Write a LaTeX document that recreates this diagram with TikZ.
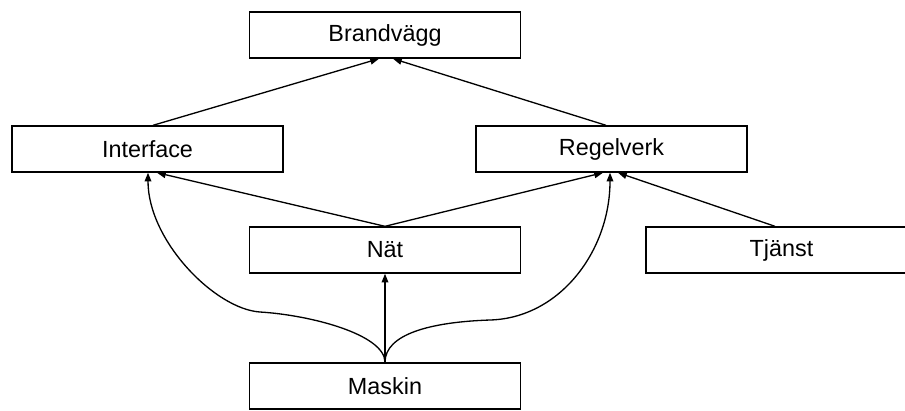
\documentclass[tikz,border=0pt]{standalone}
\usepackage{fontspec}
\setmainfont{Liberation Sans}
\usetikzlibrary{arrows.meta,calc}

\begin{document}
\begin{tikzpicture}[x=0.02cm,y=-0.02cm,
    box/.style={draw,line width=0.8pt,minimum width=5.42cm,minimum height=0.92cm,inner sep=0pt,font=\fontsize{13.3}{15}\selectfont},
    link/.style={line width=0.75pt,-{Triangle[length=5pt,width=3.8pt]}}]
  \useasboundingbox (0,0) rectangle (905,410);
  \clip (0,0) rectangle (905,410);
  \node[box] (brand) at (385,35) {Brandvägg};
  \node[box] (interface) at (147.5,149) {Interface};
  \node[box] (regelverk) at (611.5,149) {Regelverk};
  \node[box] (nat) at (385,250) {Nät};
  \node[box] (tjanst) at (781.5,250) {Tjänst};
  \node[box] (maskin) at (385,386) {Maskin};
  \draw[link] ($(interface.north)+(5.5,0)$) -- ($(brand.south)+(-6,0)$);
  \draw[link] ($(regelverk.north)+(-5.5,0)$) -- ($(brand.south)+(8,0)$);
  \draw[link] (nat.north) -- ($(interface.south)+(9.5,0)$);
  \draw[link] (nat.north) -- ($(regelverk.south)+(-8.5,0)$);
  \draw[link] ($(tjanst.north)+(-6.5,0)$) -- ($(regelverk.south)+(6.5,0)$);
  \draw[link] (maskin.north) -- (nat.south);
  % bends of the two curves
  \coordinate (bendL) at (260,312);
  \coordinate (bendR) at (490,320);
  \draw[link] (maskin.north) .. controls +(0,-28) and +(50,3) .. (bendL)
    .. controls +(-45,-3) and +(0,68) .. ($(interface.south)+(0.5,0)$);
  \draw[link] (maskin.north) .. controls +(0,-28) and +(-60,2) .. (bendR)
    .. controls +(70,-2) and +(0,78) .. ($(regelverk.south)+(-1.5,0)$);
\end{tikzpicture}
\end{document}
